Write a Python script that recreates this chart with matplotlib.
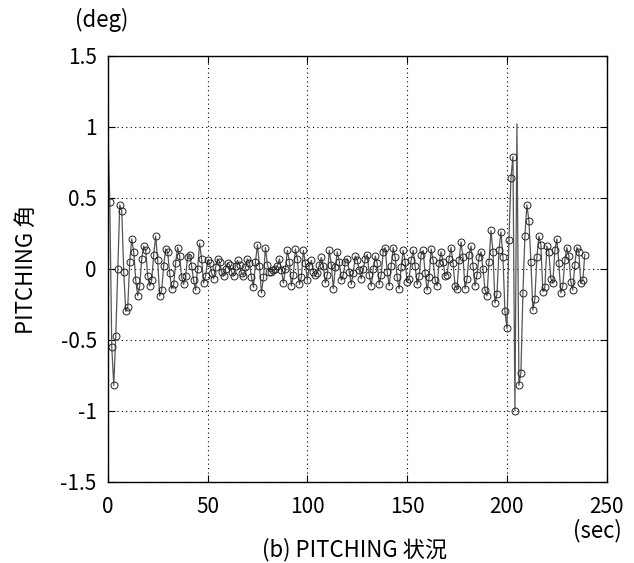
"""
plot.py
PITCHING angle time history, redrawn from a scanned report figure.
"""

import numpy as np
import matplotlib
matplotlib.use("Agg")
import matplotlib.pyplot as plt

# Data (one sample per second)
pitch_deg = [
    1.02, 0.47, -0.55, -0.82, -0.47, 0.00, 0.45, 0.41, -0.02, -0.30,
    -0.27, 0.05, 0.21, 0.12, -0.08, -0.19, -0.12, 0.07, 0.16, 0.13,
    -0.05, -0.12, -0.08, 0.10, 0.23, 0.06, -0.19, -0.15, 0.02, 0.14,
    0.12, -0.03, -0.14, -0.11, 0.04, 0.15, 0.09, -0.06, -0.11, -0.05,
    0.08, 0.10, 0.02, -0.08, -0.15, 0.00, 0.18, 0.07, -0.10, -0.05,
    0.06, 0.04, -0.03, -0.07, 0.01, 0.07, 0.05, -0.02, -0.05, 0.00,
    0.04, 0.03, -0.02, -0.05, 0.02, 0.06, 0.03, -0.03, -0.05, 0.01,
    0.07, 0.04, -0.06, -0.13, 0.05, 0.17, 0.02, -0.17, -0.06, 0.15,
    0.03, -0.02, -0.02, -0.01, 0.00, 0.02, 0.07, -0.01, -0.10, 0.00,
    0.13, 0.05, -0.12, -0.04, 0.14, 0.07, -0.11, -0.06, 0.13, 0.04,
    -0.08, 0.02, 0.06, -0.02, -0.04, -0.03, 0.03, 0.08, 0.02, -0.10,
    -0.04, 0.13, 0.03, -0.14, 0.01, 0.12, 0.05, -0.08, -0.04, 0.05,
    0.07, -0.02, -0.11, -0.03, 0.09, 0.06, -0.01, -0.07, 0.00, 0.07,
    0.10, -0.04, -0.12, 0.00, 0.09, 0.04, -0.11, -0.04, 0.12, 0.15,
    -0.02, -0.12, 0.02, 0.15, 0.08, -0.06, -0.14, 0.01, 0.13, 0.05,
    -0.09, -0.07, 0.06, 0.13, 0.02, -0.11, -0.05, 0.10, 0.13, -0.03,
    -0.15, -0.06, 0.14, 0.06, -0.08, -0.12, 0.04, 0.12, 0.05, -0.05,
    -0.04, 0.07, 0.15, 0.04, -0.12, -0.14, 0.06, 0.19, 0.08, -0.14,
    -0.07, 0.10, 0.16, 0.02, -0.12, -0.04, 0.08, 0.12, 0.00, -0.15,
    -0.19, 0.05, 0.27, 0.12, -0.24, -0.18, 0.13, 0.26, 0.08, -0.30,
    -0.42, 0.20, 0.64, 0.79, -1.00, 1.02, -0.82, -0.73, -0.17, 0.23,
    0.45, 0.34, 0.05, -0.29, -0.21, 0.08, 0.23, 0.17, -0.16, -0.13,
    0.16, 0.12, -0.07, -0.10, 0.13, 0.21, 0.04, -0.17, -0.12, 0.06,
    0.15, 0.09, -0.09, -0.15, 0.03, 0.15, 0.12, -0.10, -0.08, 0.10,
]
time_sec = list(range(len(pitch_deg)))
# samples drawn without a circle (the two sharp spikes)
no_marker = [0, 205]

x_ticks = [0, 50, 100, 150, 200, 250]
y_ticks = [-1.5, -1, -0.5, 0, 0.5, 1, 1.5]
y_tick_labels = ["-1.5", "-1", "-0.5", "0", "0.5", "1", "1.5"]

FONT = ["Liberation Sans Narrow", "Noto Sans CJK JP", "DejaVu Sans"]
plt.rcParams["font.family"] = FONT
plt.rcParams["axes.unicode_minus"] = False

fig = plt.figure(figsize=(6.34, 5.63), dpi=100)
ax = fig.add_axes([0.170, 0.144, 0.787, 0.757])

marked = [i for i in range(len(pitch_deg)) if i not in no_marker]
ax.plot(time_sec, pitch_deg, color="#555555", lw=0.9,
        marker="o", markersize=5, markerfacecolor="none",
        markeredgecolor="#222222", markeredgewidth=0.7, markevery=marked)

ax.set_xlim(0, 250)
ax.set_ylim(-1.5, 1.5)
ax.set_xticks(x_ticks)
ax.set_yticks(y_ticks)
ax.set_yticklabels(y_tick_labels)
ax.grid(True, color="black", linestyle=(0, (1, 3)), linewidth=0.8)
ax.tick_params(direction="in", top=True, right=True, length=5,
               labelsize=15, width=0.8)
ax.tick_params(axis="x", pad=10)
ax.tick_params(axis="y", pad=8)
for s in ax.spines.values():
    s.set_linewidth(1.0)

ax.set_ylabel("PITCHING 角", fontsize=16, labelpad=16)
fig.text(0.160, 0.965, "(deg)", fontsize=16, ha="center", va="center")
fig.text(0.943, 0.058, "(sec)", fontsize=16, ha="center", va="center")
fig.text(0.560, 0.023, "(b) PITCHING 状況", fontsize=16,
         ha="center", va="center")

fig.savefig("out.png", dpi=100)
